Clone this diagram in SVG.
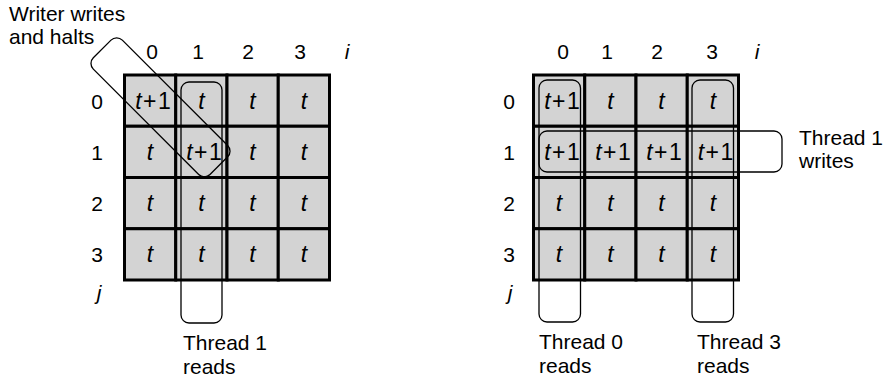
<svg xmlns="http://www.w3.org/2000/svg" width="895" height="377" viewBox="0 0 895 377">
<style>
text{font-family:"Liberation Sans",Arial,sans-serif;font-size:21px;fill:#000}
.c{text-anchor:middle}
.it{font-style:italic}
.v{font-size:23px;text-anchor:middle;font-style:italic}
.u{font-style:normal}
.cell{fill:#d3d3d3;stroke:#000;stroke-width:3}
.loop{fill:none;stroke:#000;stroke-width:1.3}
</style>
<rect width="895" height="377" fill="#fff"/>
<g id="left-grid">
<g id="L-cells">
<rect class="cell" x="124.5" y="75" width="51.25" height="51.25"/><rect class="cell" x="175.75" y="75" width="51.25" height="51.25"/><rect class="cell" x="227" y="75" width="51.25" height="51.25"/><rect class="cell" x="278.25" y="75" width="51.25" height="51.25"/>
<rect class="cell" x="124.5" y="126.25" width="51.25" height="51.25"/><rect class="cell" x="175.75" y="126.25" width="51.25" height="51.25"/><rect class="cell" x="227" y="126.25" width="51.25" height="51.25"/><rect class="cell" x="278.25" y="126.25" width="51.25" height="51.25"/>
<rect class="cell" x="124.5" y="177.5" width="51.25" height="51.25"/><rect class="cell" x="175.75" y="177.5" width="51.25" height="51.25"/><rect class="cell" x="227" y="177.5" width="51.25" height="51.25"/><rect class="cell" x="278.25" y="177.5" width="51.25" height="51.25"/>
<rect class="cell" x="124.5" y="228.75" width="51.25" height="51.25"/><rect class="cell" x="175.75" y="228.75" width="51.25" height="51.25"/><rect class="cell" x="227" y="228.75" width="51.25" height="51.25"/><rect class="cell" x="278.25" y="228.75" width="51.25" height="51.25"/>
</g>
<g id="L-values">
<text class="v" x="153" y="109">t<tspan class="u" dx="1.5">+</tspan><tspan class="u" dx="1.5">1</tspan></text><text class="v" x="201.5" y="109">t</text><text class="v" x="252.5" y="109">t</text><text class="v" x="304" y="109">t</text>
<text class="v" x="150" y="160">t</text><text class="v" x="204" y="160">t<tspan class="u" dx="1.5">+</tspan><tspan class="u" dx="1.5">1</tspan></text><text class="v" x="252.5" y="160">t</text><text class="v" x="304" y="160">t</text>
<text class="v" x="150" y="211">t</text><text class="v" x="201.5" y="211">t</text><text class="v" x="252.5" y="211">t</text><text class="v" x="304" y="211">t</text>
<text class="v" x="150" y="262">t</text><text class="v" x="201.5" y="262">t</text><text class="v" x="252.5" y="262">t</text><text class="v" x="304" y="262">t</text>
</g>
<g id="L-axes">
<text class="c" x="152" y="59">0</text><text class="c" x="198" y="59">1</text><text class="c" x="248" y="59">2</text><text class="c" x="300" y="59">3</text><text class="c it" x="347" y="59">i</text>
<text class="c" x="97" y="109">0</text><text class="c" x="97" y="160">1</text><text class="c" x="97" y="211">2</text><text class="c" x="97" y="262">3</text><text class="c it" x="99" y="300">j</text>
</g>
</g>
<g id="right-grid">
<g id="R-cells">
<rect class="cell" x="533.5" y="75" width="51.25" height="51.25"/><rect class="cell" x="584.75" y="75" width="51.25" height="51.25"/><rect class="cell" x="636" y="75" width="51.25" height="51.25"/><rect class="cell" x="687.25" y="75" width="51.25" height="51.25"/>
<rect class="cell" x="533.5" y="126.25" width="51.25" height="51.25"/><rect class="cell" x="584.75" y="126.25" width="51.25" height="51.25"/><rect class="cell" x="636" y="126.25" width="51.25" height="51.25"/><rect class="cell" x="687.25" y="126.25" width="51.25" height="51.25"/>
<rect class="cell" x="533.5" y="177.5" width="51.25" height="51.25"/><rect class="cell" x="584.75" y="177.5" width="51.25" height="51.25"/><rect class="cell" x="636" y="177.5" width="51.25" height="51.25"/><rect class="cell" x="687.25" y="177.5" width="51.25" height="51.25"/>
<rect class="cell" x="533.5" y="228.75" width="51.25" height="51.25"/><rect class="cell" x="584.75" y="228.75" width="51.25" height="51.25"/><rect class="cell" x="636" y="228.75" width="51.25" height="51.25"/><rect class="cell" x="687.25" y="228.75" width="51.25" height="51.25"/>
</g>
<g id="R-values">
<text class="v" x="562" y="109">t<tspan class="u" dx="1.5">+</tspan><tspan class="u" dx="1.5">1</tspan></text><text class="v" x="610.5" y="109">t</text><text class="v" x="661.5" y="109">t</text><text class="v" x="713" y="109">t</text>
<text class="v" x="562" y="160">t<tspan class="u" dx="1.5">+</tspan><tspan class="u" dx="1.5">1</tspan></text><text class="v" x="613" y="160">t<tspan class="u" dx="1.5">+</tspan><tspan class="u" dx="1.5">1</tspan></text><text class="v" x="664" y="160">t<tspan class="u" dx="1.5">+</tspan><tspan class="u" dx="1.5">1</tspan></text><text class="v" x="715.5" y="160">t<tspan class="u" dx="1.5">+</tspan><tspan class="u" dx="1.5">1</tspan></text>
<text class="v" x="559" y="211">t</text><text class="v" x="610.5" y="211">t</text><text class="v" x="661.5" y="211">t</text><text class="v" x="713" y="211">t</text>
<text class="v" x="559" y="262">t</text><text class="v" x="610.5" y="262">t</text><text class="v" x="661.5" y="262">t</text><text class="v" x="713" y="262">t</text>
</g>
<g id="R-axes">
<text class="c" x="563" y="59">0</text><text class="c" x="607" y="59">1</text><text class="c" x="657" y="59">2</text><text class="c" x="712" y="59">3</text><text class="c it" x="757" y="59">i</text>
<text class="c" x="509" y="109">0</text><text class="c" x="509" y="160">1</text><text class="c" x="509" y="211">2</text><text class="c" x="509" y="262">3</text><text class="c it" x="510" y="300">j</text>
</g>
</g>
<g id="connectors">
<rect id="writer-loop" class="loop" x="-82.5" y="-20.5" width="165" height="41" rx="8" transform="translate(160.5 107.3) rotate(45)"/>
<rect id="L-thread1-read" class="loop" x="181" y="82" width="41" height="241" rx="8"/>
<rect id="R-thread0-read" class="loop" x="539" y="80" width="41.5" height="242" rx="8"/>
<rect id="R-thread3-read" class="loop" x="692" y="80" width="41.5" height="242" rx="8"/>
<rect id="R-thread1-write" class="loop" x="539" y="131" width="243" height="41" rx="8"/>
</g>
<g id="labels">
<g id="writer-label"><text x="9" y="21">Writer writes</text><text x="9" y="44">and halts</text></g>
<g id="L-thread1-label"><text x="183" y="350">Thread 1</text><text x="183" y="374">reads</text></g>
<g id="R-thread0-label"><text x="539" y="349">Thread 0</text><text x="539" y="373">reads</text></g>
<g id="R-thread3-label"><text x="697" y="349">Thread 3</text><text x="697" y="373">reads</text></g>
<g id="R-thread1w-label"><text x="799" y="145">Thread 1</text><text x="799" y="168">writes</text></g>
</g>
</svg>
